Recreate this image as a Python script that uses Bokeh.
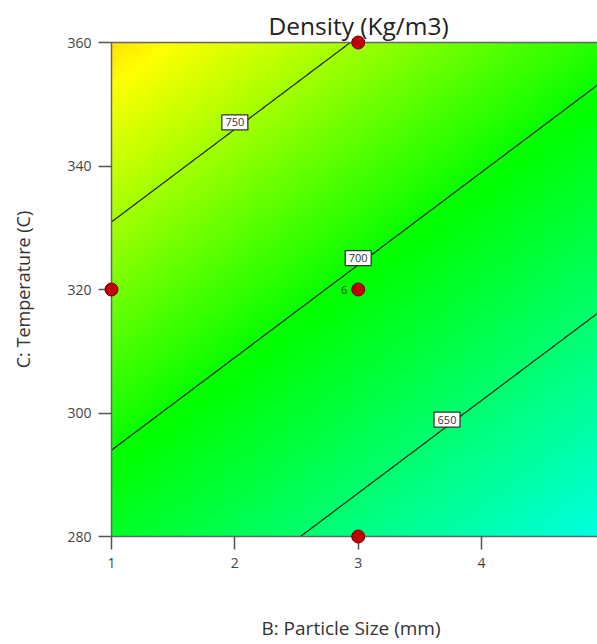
import colorsys
import numpy as np
from bokeh.plotting import figure
from bokeh.models import Range1d, LinearColorMapper, ColumnDataSource
from bokeh.core.properties import value
from bokeh.embed import file_html
from bokeh.resources import INLINE

# ---- data ----
x_ticks = [1, 2, 3, 4]                      # B: Particle Size (mm)
t_ticks = [280, 300, 320, 340, 360]         # C: Temperature (C)
x_low, x_high = 1, 5
t_low, t_high = 280, 360
x_visible_end = 4.94                        # the picture is cut at the right
# linear response surface (coded units) estimated from contour positions
intercept = 694.6
coef_B = -40.6
coef_C = 54.1
contour_levels = [650, 700, 750]
contour_label_x = [3.72, 3.0, 2.0]
design_x = [3, 1, 3, 3]
design_t = [360, 320, 320, 280]
design_count = ["", "", "6", ""]

FONT = "Open Sans"
PAD_PX = 7                # white margin inside the frame so markers are not cut
PX_PER_X = 123.3
PX_PER_T = 6.175


def density(b, c):
    return intercept + coef_B * (b - 3) / 2 + coef_C * (c - 320) / 40


def temp_for(level, b):
    return 320 + 40 * (level - intercept - coef_B * (b - 3) / 2) / coef_C


# grid
xs = np.linspace(x_low, x_high, 241)
ts = np.linspace(t_low, t_high, 241)
X, T = np.meshgrid(xs, ts)
Z = density(X, T)

# rainbow palette (hue follows the response value)
lo, hi = 595.0, 795.0
palette = []
for v in np.linspace(lo, hi, 256):
    if v >= 697:
        hue = 120 - (v - 697) * 0.72
    else:
        hue = 120 + (697 - v) * 0.55
    hue = min(max(hue, 0), 240)
    r, g, b = colorsys.hsv_to_rgb(hue / 360.0, 1.0, 1.0)
    palette.append("#%02x%02x%02x" % (int(r * 255), int(g * 255), int(b * 255)))
mapper = LinearColorMapper(palette=palette, low=lo, high=hi)

x_pad = PAD_PX / PX_PER_X
t_pad = PAD_PX / PX_PER_T
p = figure(width=597, height=644, output_backend="svg", toolbar_location=None,
           x_range=Range1d(x_low - x_pad, x_visible_end),
           y_range=Range1d(t_low - t_pad, t_high + t_pad),
           min_border_left=111 - PAD_PX, min_border_right=0,
           min_border_top=42 - PAD_PX, min_border_bottom=108 - PAD_PX)
p.outline_line_color = None
p.grid.visible = False
p.background_fill_color = "white"
p.border_fill_color = "white"

p.image(image=[Z], x=x_low, y=t_low, dw=x_high - x_low, dh=t_high - t_low,
        color_mapper=mapper)

p.contour(xs, ts, Z, levels=contour_levels, line_color="#000000",
          line_alpha=0.8, line_width=1.3)

# frame border of the data region
p.quad(left=[x_low], right=[x_high], bottom=[t_low], top=[t_high],
       fill_color=None, line_color="#666666", line_width=1.5)

# contour labels (boxes sit slightly above their line)
label_lift = 1.1
lab_src = ColumnDataSource(dict(
    x=contour_label_x,
    y=[temp_for(l, b) + label_lift for l, b in zip(contour_levels, contour_label_x)],
    text=[str(l) for l in contour_levels]))
p.rect(x="x", y="y", width=26, height=15, width_units="screen",
       height_units="screen", fill_color="white", line_color="#333333",
       line_width=1.3, source=lab_src)
p.text(x="x", y="y", text="text", source=lab_src, text_font=value(FONT),
       text_font_size="11px", text_color="#333333", text_align="center",
       text_baseline="middle")

# design points
p.scatter(design_x, design_t, size=13, fill_color="#c00000",
          line_color="#6e0000", line_width=1, level="overlay")
p.text(x=design_x, y=design_t, text=design_count, x_offset=-11,
       text_font=value(FONT), text_font_size="11px", text_color="#2a4a1a",
       text_align="right", text_baseline="middle")

# title
p.title.text = "Density (Kg/m3)"
p.title.align = "left"
p.title.text_font = FONT
p.title.text_font_size = "24.5px"
p.title.text_font_style = "normal"
p.title.text_color = "#222222"
p.title.standoff = -13
p.title.offset = 164

# axes
for ax in (p.xaxis[0], p.yaxis[0]):
    ax.axis_line_color = None
    ax.major_tick_line_color = "#555555"
    ax.major_tick_line_width = 1.5
    ax.minor_tick_line_color = None
    ax.major_tick_in = PAD_PX
    ax.major_tick_out = 6
    ax.major_label_text_font = FONT
    ax.major_label_text_font_size = "14px"
    ax.major_label_text_color = "#444444"
    ax.axis_label_text_font = FONT
    ax.axis_label_text_font_style = "normal"
    ax.axis_label_text_color = "#333333"

p.xaxis.axis_label_text_font_size = "19px"
p.yaxis.axis_label_text_font_size = "18px"
p.xaxis.ticker = x_ticks
p.yaxis.ticker = t_ticks
p.xaxis.axis_label = "B: Particle Size (mm)"
p.yaxis.axis_label = "C: Temperature (C)"
p.xaxis.major_label_standoff = 8
p.xaxis.axis_label_standoff = 44
p.yaxis.major_label_standoff = 7
p.yaxis.axis_label_standoff = 29

open("out.html", "w").write(file_html(p, INLINE))
